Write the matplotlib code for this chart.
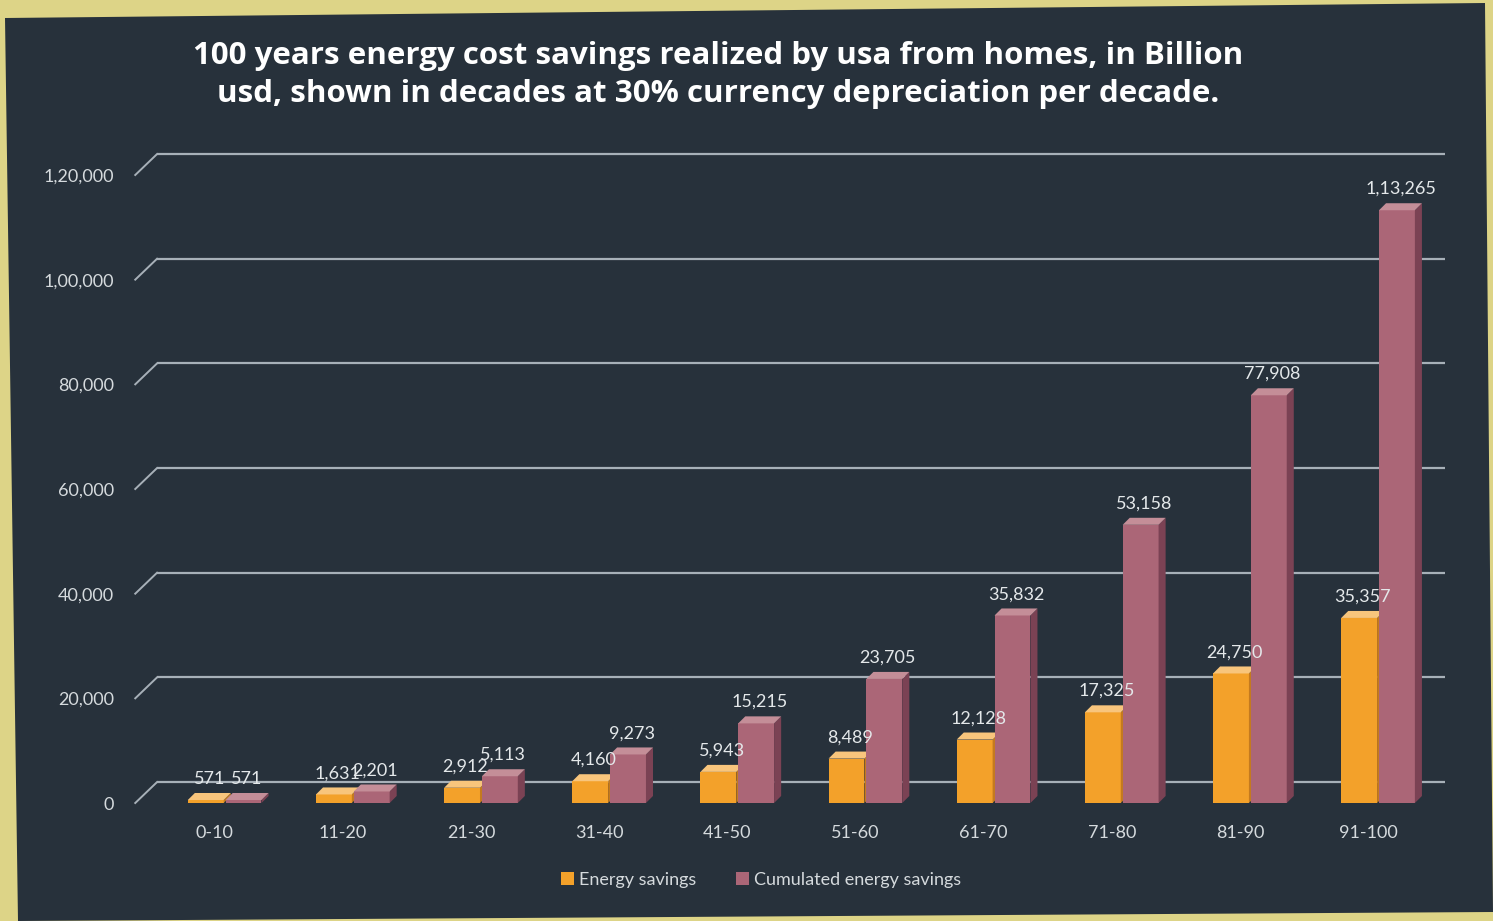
import matplotlib
matplotlib.use("Agg")
import matplotlib.pyplot as plt
from matplotlib.patches import Polygon, Patch

# ---- data ----
categories = ["0-10", "11-20", "21-30", "31-40", "41-50", "51-60",
              "61-70", "71-80", "81-90", "91-100"]
energy_savings = [571, 1631, 2912, 4160, 5943, 8489, 12128, 17325, 24750, 35357]
cumulated_savings = [571, 2201, 5113, 9273, 15215, 23705, 35832, 53158, 77908, 113265]
y_ticks = [0, 20000, 40000, 60000, 80000, 100000, 120000]
title = ("100 years energy cost savings realized by usa from homes, in Billion\n"
         "usd, shown in decades at 30% currency depreciation per decade.")
series_names = ["Energy savings", "Cumulated energy savings"]


def indian_fmt(v):
    s = str(int(v))
    if len(s) <= 3:
        return s
    last3 = s[-3:]
    rest = s[:-3]
    groups = []
    while len(rest) > 2:
        groups.insert(0, rest[-2:])
        rest = rest[:-2]
    if rest:
        groups.insert(0, rest)
    return ",".join(groups + [last3])


plt.rcParams['font.family'] = ['Lato', 'DejaVu Sans']
W, H = 1493, 921
fig = plt.figure(figsize=(W / 100, H / 100), dpi=100)
fig.patch.set_facecolor('#ddd487')

# dark board (photo of a slide)
board = [(5, 18), (1485, 3), (1493, 912), (18, 921)]
fig.patches.append(Polygon([(x / W, 1 - y / H) for x, y in board], closed=True,
                           transform=fig.transFigure, facecolor='#27313b',
                           edgecolor='none', zorder=-10))

ax = fig.add_axes([125 / W, (H - 803) / H, 1320 / W, 628 / H])
ax.set_zorder(1)
ax.set_facecolor('none')
ax.set_xlim(-0.7, 9.6)
ax.set_ylim(0, 120000)
for s in ax.spines.values():
    s.set_visible(False)

grid_dy = 4000
grid_col = '#a7b0b8'
for v in y_ticks:
    ax.plot([-0.45, 9.6], [v + grid_dy, v + grid_dy], color=grid_col, lw=1.6,
            zorder=1, solid_capstyle='butt', clip_on=False)
    ax.plot([-0.62, -0.45], [v, v + grid_dy], color=grid_col, lw=1.4, zorder=1,
            clip_on=False)

ax.set_yticks(y_ticks)
ax.set_yticklabels([indian_fmt(v) for v in y_ticks])
ax.set_xticks(range(len(categories)))
ax.set_xticklabels(categories)
ax.tick_params(axis='both', length=0, colors='#d5dadd', labelsize=13)
ax.tick_params(axis='y', pad=8)
ax.tick_params(axis='x', pad=16)

width = 0.28
dx = 0.055
dy = 1340
series = [
    (energy_savings, -0.07, '#f3a12a', '#f8c57c', '#c47a1e'),
    (cumulated_savings, 0.225, '#ab6677', '#c48e98', '#7b4254'),
]
for vals, off, front, top, side in series:
    xs = [i + off for i in range(len(vals))]
    ax.bar(xs, vals, width=width, color=front, edgecolor='none', zorder=3)
    for x, v in zip(xs, vals):
        l, r = x - width / 2, x + width / 2
        ax.add_patch(Polygon([(r, 0), (r + dx, dy), (r + dx, v + dy), (r, v)],
                             closed=True, facecolor=side, edgecolor='none', zorder=3))
        ax.add_patch(Polygon([(l, v), (r, v), (r + dx, v + dy), (l + dx, v + dy)],
                             closed=True, facecolor=top, edgecolor='none', zorder=3))
        ax.text(x + dx / 2, v + dy + 1200, indian_fmt(v), ha='center', va='bottom',
                color='#e4e8ea', fontsize=13, zorder=5)

fig.text(0.481, 1 - 75 / H, title, ha='center', va='center', color='white',
         fontsize=22.5, fontweight='bold', family=['Open Sans', 'DejaVu Sans'],
         linespacing=1.35)

handles = [Patch(facecolor='#f3a12a', edgecolor='none'),
           Patch(facecolor='#ab6677', edgecolor='none')]
fig.legend(handles, series_names, loc='center', bbox_to_anchor=(0.51, 1 - 880 / H),
           ncol=2, frameon=False, fontsize=13, labelcolor='#d5dadd',
           handlelength=0.7, handleheight=0.7, handletextpad=0.3, columnspacing=2.2)

fig.savefig('out.png', dpi=100, facecolor=fig.get_facecolor())
